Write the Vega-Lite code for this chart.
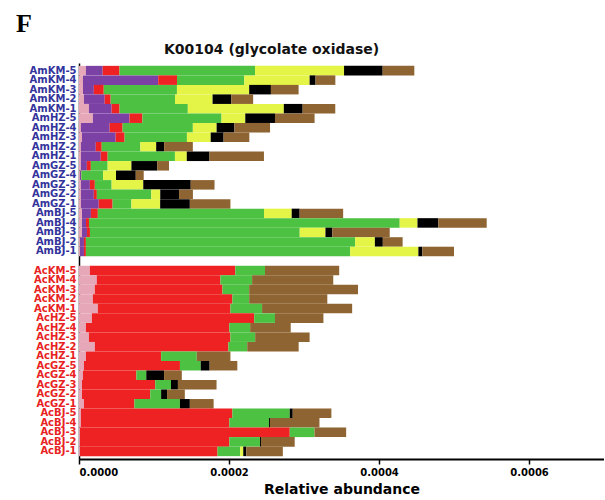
{
  "$schema": "https://vega.github.io/schema/vega-lite/v6.json",
  "padding": {"left": 16, "top": 11, "right": 0, "bottom": 0},
  "title": {"text": "F", "anchor": "start", "frame": "bounds", "font": "Liberation Serif", "fontSize": 26, "fontWeight": "bold", "dx": -13, "offset": 6, "color": "#000000"},
  "config": {"view": {"stroke": null}},
  "vconcat": [
    {
      "width": 525,
      "height": 396,
      "title": {"text": "K00104 (glycolate oxidase)", "anchor": "start", "frame": "group", "dx": 85, "font": "DejaVu Sans", "fontSize": 14, "fontWeight": "bold", "offset": 6, "color": "#111111"},
      "data": {
        "values": [
          {"s": "AmKM-5", "c1": 9.2e-6, "c2": 22.4e-6, "c3": 22.4e-6, "c4": 180.7e-6, "c5": 118.7e-6, "c6": 51.5e-6, "c7": 42.2e-6},
          {"s": "AmKM-4", "c1": 5.3e-6, "c2": 100.3e-6, "c3": 25.1e-6, "c4": 89.7e-6, "c5": 87.1e-6, "c6": 7.9e-6, "c7": 26.4e-6},
          {"s": "AmKM-3", "c1": 5.3e-6, "c2": 14.5e-6, "c3": 13.2e-6, "c4": 97.6e-6, "c5": 96.3e-6, "c6": 29.0e-6, "c7": 36.9e-6},
          {"s": "AmKM-2", "c1": 6.6e-6, "c2": 27.7e-6, "c3": 7.9e-6, "c4": 85.8e-6, "c5": 50.1e-6, "c6": 25.1e-6, "c7": 29.0e-6},
          {"s": "AmKM-1", "c1": 13.2e-6, "c2": 30.3e-6, "c3": 10.6e-6, "c4": 91.0e-6, "c5": 128.0e-6, "c6": 25.1e-6, "c7": 43.5e-6},
          {"s": "AmHZ-5", "c1": 18.5e-6, "c2": 48.8e-6, "c3": 17.2e-6, "c4": 105.5e-6, "c5": 31.7e-6, "c6": 39.6e-6, "c7": 52.8e-6},
          {"s": "AmHZ-4", "c1": 2.6e-6, "c2": 38.3e-6, "c3": 17.2e-6, "c4": 93.7e-6, "c5": 31.7e-6, "c6": 23.7e-6, "c7": 47.5e-6},
          {"s": "AmHZ-3", "c1": 4.0e-6, "c2": 44.9e-6, "c3": 11.9e-6, "c4": 83.1e-6, "c5": 31.7e-6, "c6": 17.2e-6, "c7": 34.3e-6},
          {"s": "AmHZ-2", "c1": 2.6e-6, "c2": 19.8e-6, "c3": 7.9e-6, "c4": 51.5e-6, "c5": 21.1e-6, "c6": 10.6e-6, "c7": 38.3e-6},
          {"s": "AmHZ-1", "c1": 2.6e-6, "c2": 26.4e-6, "c3": 9.2e-6, "c4": 89.7e-6, "c5": 15.8e-6, "c6": 30.3e-6, "c7": 72.6e-6},
          {"s": "AmGZ-5", "c1": 2.6e-6, "c2": 7.9e-6, "c3": 5.3e-6, "c4": 22.4e-6, "c5": 31.7e-6, "c6": 34.3e-6, "c7": 15.8e-6},
          {"s": "AmGZ-4", "c1": 1.3e-6, "c2": 1.3e-6, "c3": 0.5e-6, "c4": 29.0e-6, "c5": 17.2e-6, "c6": 26.4e-6, "c7": 10.6e-6},
          {"s": "AmGZ-3", "c1": 2.6e-6, "c2": 11.9e-6, "c3": 6.6e-6, "c4": 22.4e-6, "c5": 42.2e-6, "c6": 63.3e-6, "c7": 31.7e-6},
          {"s": "AmGZ-2", "c1": 2.6e-6, "c2": 17.2e-6, "c3": 4.0e-6, "c4": 72.6e-6, "c5": 11.9e-6, "c6": 25.1e-6, "c7": 18.5e-6},
          {"s": "AmGZ-1", "c1": 2.6e-6, "c2": 23.7e-6, "c3": 18.5e-6, "c4": 25.1e-6, "c5": 38.3e-6, "c6": 39.6e-6, "c7": 54.1e-6},
          {"s": "AmBJ-5", "c1": 4.0e-6, "c2": 11.9e-6, "c3": 9.2e-6, "c4": 221.6e-6, "c5": 36.9e-6, "c6": 10.6e-6, "c7": 58.0e-6},
          {"s": "AmBJ-4", "c1": 4.0e-6, "c2": 5.3e-6, "c3": 4.0e-6, "c4": 414.3e-6, "c5": 23.7e-6, "c6": 27.7e-6, "c7": 64.6e-6},
          {"s": "AmBJ-3", "c1": 4.0e-6, "c2": 6.6e-6, "c3": 4.0e-6, "c4": 279.7e-6, "c5": 34.3e-6, "c6": 9.2e-6, "c7": 76.5e-6},
          {"s": "AmBJ-2", "c1": 1.3e-6, "c2": 5.3e-6, "c3": 2.6e-6, "c4": 358.9e-6, "c5": 26.4e-6, "c6": 10.6e-6, "c7": 26.4e-6},
          {"s": "AmBJ-1", "c1": 1.3e-6, "c2": 5.3e-6, "c3": 2.6e-6, "c4": 352.3e-6, "c5": 91.0e-6, "c6": 5.3e-6, "c7": 42.2e-6},
          {"s": "AcKM-5", "c1": 14.5e-6, "c2": 0, "c3": 193.9e-6, "c4": 39.6e-6, "c5": 0, "c6": 0, "c7": 98.9e-6},
          {"s": "AcKM-4", "c1": 23.7e-6, "c2": 0, "c3": 164.9e-6, "c4": 42.2e-6, "c5": 0, "c6": 0, "c7": 108.2e-6},
          {"s": "AcKM-3", "c1": 21.1e-6, "c2": 0, "c3": 170.2e-6, "c4": 35.6e-6, "c5": 0, "c6": 0, "c7": 145.1e-6},
          {"s": "AcKM-2", "c1": 18.5e-6, "c2": 0, "c3": 186.0e-6, "c4": 22.4e-6, "c5": 0, "c6": 0, "c7": 104.2e-6},
          {"s": "AcKM-1", "c1": 25.1e-6, "c2": 0, "c3": 176.8e-6, "c4": 42.2e-6, "c5": 0, "c6": 0, "c7": 120.1e-6},
          {"s": "AcHZ-5", "c1": 17.2e-6, "c2": 0, "c3": 216.4e-6, "c4": 27.7e-6, "c5": 0, "c6": 0, "c7": 64.6e-6},
          {"s": "AcHZ-4", "c1": 9.2e-6, "c2": 0, "c3": 191.3e-6, "c4": 27.7e-6, "c5": 0, "c6": 0, "c7": 54.1e-6},
          {"s": "AcHZ-3", "c1": 13.2e-6, "c2": 0, "c3": 188.7e-6, "c4": 33.0e-6, "c5": 0, "c6": 0, "c7": 72.6e-6},
          {"s": "AcHZ-2", "c1": 21.1e-6, "c2": 0, "c3": 178.1e-6, "c4": 25.1e-6, "c5": 0, "c6": 0, "c7": 68.6e-6},
          {"s": "AcHZ-1", "c1": 9.2e-6, "c2": 0, "c3": 100.3e-6, "c4": 47.5e-6, "c5": 0, "c6": 0, "c7": 44.9e-6},
          {"s": "AcGZ-5", "c1": 6.6e-6, "c2": 0, "c3": 128.0e-6, "c4": 27.7e-6, "c5": 0, "c6": 11.9e-6, "c7": 36.9e-6},
          {"s": "AcGZ-4", "c1": 5.3e-6, "c2": 0, "c3": 71.2e-6, "c4": 13.2e-6, "c5": 0, "c6": 23.7e-6, "c7": 23.7e-6},
          {"s": "AcGZ-3", "c1": 4.0e-6, "c2": 0, "c3": 97.6e-6, "c4": 21.1e-6, "c5": 0, "c6": 9.2e-6, "c7": 51.5e-6},
          {"s": "AcGZ-2", "c1": 4.0e-6, "c2": 0, "c3": 91.0e-6, "c4": 14.5e-6, "c5": 0, "c6": 7.9e-6, "c7": 23.7e-6},
          {"s": "AcGZ-1", "c1": 6.6e-6, "c2": 0, "c3": 67.3e-6, "c4": 60.7e-6, "c5": 0, "c6": 13.2e-6, "c7": 31.7e-6},
          {"s": "AcBJ-5", "c1": 2.6e-6, "c2": 0, "c3": 201.9e-6, "c4": 76.5e-6, "c5": 0, "c6": 4.0e-6, "c7": 51.5e-6},
          {"s": "AcBJ-4", "c1": 2.6e-6, "c2": 0, "c3": 197.9e-6, "c4": 52.8e-6, "c5": 0, "c6": 1.3e-6, "c7": 66.0e-6},
          {"s": "AcBJ-3", "c1": 1.3e-6, "c2": 0, "c3": 279.7e-6, "c4": 33.0e-6, "c5": 0, "c6": 0, "c7": 42.2e-6},
          {"s": "AcBJ-2", "c1": 1.3e-6, "c2": 0, "c3": 199.2e-6, "c4": 40.9e-6, "c5": 0, "c6": 1.3e-6, "c7": 44.9e-6},
          {"s": "AcBJ-1", "c1": 1.3e-6, "c2": 0, "c3": 183.4e-6, "c4": 30.3e-6, "c5": 4.0e-6, "c6": 4.0e-6, "c7": 48.8e-6}
        ]
      },
      "transform": [
        {"fold": ["c1", "c2", "c3", "c4", "c5", "c6", "c7"], "as": ["cat", "v"]}
      ],
      "mark": {"type": "bar"},
      "encoding": {
        "y": {
          "field": "s",
          "type": "nominal",
          "sort": null,
          "scale": {
            "domain": ["AmKM-5", "AmKM-4", "AmKM-3", "AmKM-2", "AmKM-1", "AmHZ-5", "AmHZ-4", "AmHZ-3", "AmHZ-2", "AmHZ-1", "AmGZ-5", "AmGZ-4", "AmGZ-3", "AmGZ-2", "AmGZ-1", "AmBJ-5", "AmBJ-4", "AmBJ-3", "AmBJ-2", "AmBJ-1", " ", "AcKM-5", "AcKM-4", "AcKM-3", "AcKM-2", "AcKM-1", "AcHZ-5", "AcHZ-4", "AcHZ-3", "AcHZ-2", "AcHZ-1", "AcGZ-5", "AcGZ-4", "AcGZ-3", "AcGZ-2", "AcGZ-1", "AcBJ-5", "AcBJ-4", "AcBJ-3", "AcBJ-2", "AcBJ-1"],
            "paddingInner": 0,
            "paddingOuter": 0.3
          },
          "axis": {
            "title": null,
            "ticks": false,
            "labelPadding": 3,
            "labelFont": "DejaVu Sans",
            "labelFontSize": 10,
            "labelFontWeight": "bold",
            "labelColor": {"condition": {"test": "indexof(datum.label, 'Am') === 0", "value": "#33339c"}, "value": "#e82222"},
            "domainColor": "#000000",
            "domainWidth": 1.5,
            "grid": false
          }
        },
        "x": {
          "field": "v",
          "type": "quantitative",
          "stack": "zero",
          "scale": {"domain": [0, 0.0007], "nice": false},
          "axis": {
            "title": "Relative abundance",
            "titleFont": "DejaVu Sans",
            "titleFontSize": 14,
            "titleFontWeight": "bold",
            "titleColor": "#000000",
            "titlePadding": 5,
            "values": [0, 0.0002, 0.0004, 0.0006],
            "format": ".4f",
            "labelFont": "DejaVu Sans",
            "labelFontSize": 10,
            "labelFontWeight": "bold",
            "labelColor": "#000000",
            "labelPadding": 3,
            "tickColor": "#000000",
            "tickSize": 5,
            "tickWidth": 1.5,
            "domainColor": "#000000",
            "domainWidth": 2,
            "grid": false
          }
        },
        "color": {
          "field": "cat",
          "type": "nominal",
          "scale": {
            "domain": ["c1", "c2", "c3", "c4", "c5", "c6", "c7"],
            "range": ["#e6a8b8", "#7b41a5", "#ee2222", "#4cc142", "#e4f548", "#000000", "#8e6532"]
          },
          "legend": null
        }
      }
    }
  ]
}
